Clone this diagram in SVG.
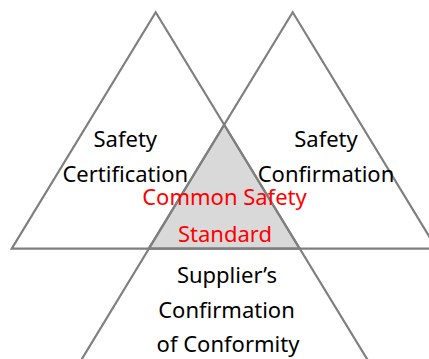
<svg xmlns="http://www.w3.org/2000/svg" width="429" height="359" viewBox="0 0 429 359">
<style>
.tri{fill:none;stroke:#7f7f7f;stroke-width:2.2;stroke-linejoin:miter}
.t{font-family:"Noto Sans","Noto Sans CJK KR",sans-serif;font-size:22px;text-anchor:middle;fill:#000}
.r{fill:#ff0000}
</style>
<rect width="429" height="359" fill="#fff"/>
<g id="common-area">
<polygon points="224.2,124.8 149.2,248.7 299.2,248.7" fill="#d9d9d9"/>
</g>
<g id="connectors">
<polygon class="tri" points="155.7,12.3 11.7,248.7 299.7,248.7"/>
<polygon class="tri" points="292.7,12.3 148.7,248.7 436.7,248.7"/>
<polyline class="tri" points="60,395 224.2,124.8 389,395"/>
</g>
<g id="safety-certification">
<text class="t" x="125.3" y="146.5">Safety</text>
<text class="t" x="125.3" y="181.5">Certification</text>
</g>
<g id="safety-confirmation">
<text class="t" x="326" y="146.5">Safety</text>
<text class="t" x="326" y="181.5">Confirmation</text>
</g>
<g id="common-safety-standard">
<text class="t r" x="224.5" y="205">Common Safety</text>
<text class="t r" x="225" y="241.5">Standard</text>
</g>
<g id="sdoc">
<text class="t" x="227" y="283">Supplier’s</text>
<text class="t" x="226.5" y="318">Confirmation</text>
<text class="t" x="228" y="352">of Conformity</text>
</g>
</svg>
